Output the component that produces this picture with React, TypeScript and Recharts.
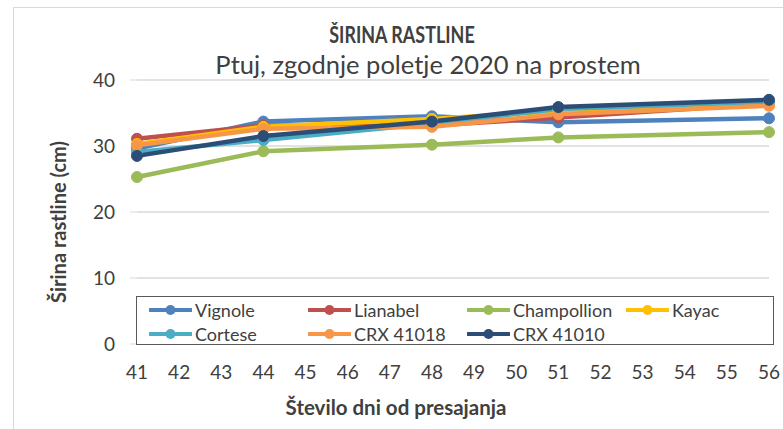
import React from 'react';
import { LineChart, Line, XAxis, YAxis, CartesianGrid } from 'recharts';

const days = [41, 44, 48, 51, 56];
const vignole = [29.6, 33.7, 34.5, 33.6, 34.2];
const lianabel = [31.1, 33.1, 33.1, 34.3, 36.4];
const champollion = [25.3, 29.2, 30.2, 31.3, 32.1];
const kayac = [30.3, 32.9, 34.1, 35.3, 36.5];
const cortese = [29.1, 30.9, 33.4, 35.6, 36.7];
const crx41018 = [30.1, 32.6, 32.9, 34.8, 36.1];
const crx41010 = [28.5, 31.5, 33.7, 35.9, 37.0];

const xTicks = [41, 42, 43, 44, 45, 46, 47, 48, 49, 50, 51, 52, 53, 54, 55, 56];
const yTicks = [0, 10, 20, 30, 40];

const seriesDefs = [
  { key: 'Vignole', values: vignole, color: '#4F81BD' },
  { key: 'Lianabel', values: lianabel, color: '#C0504D' },
  { key: 'Champollion', values: champollion, color: '#9BBB59' },
  { key: 'Kayac', values: kayac, color: '#FFC000' },
  { key: 'Cortese', values: cortese, color: '#4BACC6' },
  { key: 'CRX 41018', values: crx41018, color: '#F79646' },
  { key: 'CRX 41010', values: crx41010, color: '#2C4D75' },
];

const data = days.map((d, i) => {
  const row: any = { day: d };
  seriesDefs.forEach((s) => { row[s.key] = s.values[i]; });
  return row;
});

const FONT = "Lato, 'Open Sans', sans-serif";
const TXT = '#404040';

function LegendBox() {
  return (
    <div style={{ position: 'absolute', left: 136, top: 296, width: 638, height: 49, boxSizing: 'border-box', border: '1px solid #595959', background: '#fff' }}>
      {seriesDefs.map((s, i) => {
        const col = i % 4;
        const row = Math.floor(i / 4);
        return (
          <div key={s.key} style={{ position: 'absolute', left: 12 + col * 159, top: row * 24, height: 25, display: 'flex', alignItems: 'center', fontFamily: FONT, fontSize: 18, color: TXT, whiteSpace: 'nowrap' }}>
            <svg width={43} height={12} style={{ marginRight: 3 }}>
              <line x1={1} y1={6} x2={42} y2={6} stroke={s.color} strokeWidth={4} strokeLinecap="round" />
              <circle cx={21.5} cy={6} r={5} fill={s.color} />
            </svg>
            <span>{s.key}</span>
          </div>
        );
      })}
    </div>
  );
}

export default function App() {
  return (
    <div style={{ position: 'absolute', left: 0, top: 0, width: 783, height: 429, background: '#fff', overflow: 'hidden' }}>
      <div style={{ position: 'absolute', left: 13, top: 7, width: 800, height: 440, border: '1px solid #d9d9d9', boxSizing: 'border-box' }} />
      <LineChart width={783} height={429} data={data} margin={{ top: 80, right: 14, left: 0, bottom: 0 }}>
        <CartesianGrid vertical={false} stroke="#d9d9d9" strokeWidth={1.5} />
        <XAxis
          dataKey="day"
          type="number"
          domain={[41, 56]}
          ticks={xTicks}
          interval={0}
          axisLine={false}
          tickLine={false}
          tickMargin={16}
          height={85}
          tick={{ fill: TXT, fontSize: 19, fontFamily: FONT }}
        />
        <YAxis
          domain={[0, 40]}
          ticks={yTicks}
          width={137}
          axisLine={false}
          tickLine={{ stroke: '#d9d9d9' }}
          tickSize={7}
          tickMargin={15}
          tick={{ fill: TXT, fontSize: 19, fontFamily: FONT }}
        />
        {seriesDefs.map((s) => (
          <Line
            key={s.key}
            type="linear"
            dataKey={s.key}
            stroke={s.color}
            strokeWidth={4.5}
            dot={{ r: 5.5, fill: s.color, stroke: s.color, strokeWidth: 1 }}
            activeDot={false}
            isAnimationActive={false}
          />
        ))}
      </LineChart>
      <LegendBox />
      <div style={{ position: 'absolute', left: 402, top: 20, transform: 'translateX(-50%) scaleX(0.78)', whiteSpace: 'nowrap', fontFamily: FONT, fontWeight: 'bold', fontSize: 23, color: TXT }}>ŠIRINA RASTLINE</div>
      <div style={{ position: 'absolute', left: 428, top: 49, transform: 'translateX(-50%)', whiteSpace: 'nowrap', fontFamily: FONT, fontSize: 25.5, color: TXT }}>Ptuj, zgodnje poletje 2020 na prostem</div>
      <div style={{ position: 'absolute', left: 396, top: 395, transform: 'translateX(-50%)', whiteSpace: 'nowrap', fontFamily: FONT, fontWeight: 'bold', fontSize: 20.5, color: TXT }}>Število dni od presajanja</div>
      <div style={{ position: 'absolute', left: 58, top: 222, transform: 'translate(-50%, -50%) rotate(-90deg)', whiteSpace: 'nowrap', fontFamily: FONT, fontWeight: 'bold', fontSize: 20, color: TXT }}>Širina rastline (cm)</div>
    </div>
  );
}
